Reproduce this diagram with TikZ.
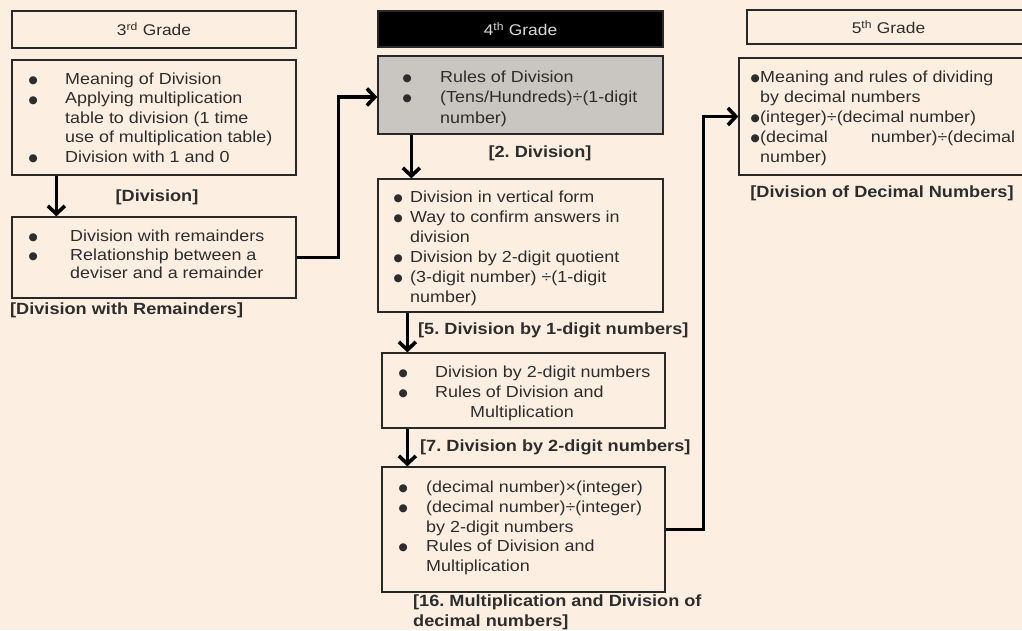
\documentclass[tikz,border=0pt]{standalone}
\usepackage{fontspec}
\setmainfont{Liberation Sans}[FakeStretch=1.12]
\newfontfamily\symfont{DejaVu Sans}
\usetikzlibrary{arrows.meta,calc}
\definecolor{bg}{RGB}{252,239,226}
\definecolor{ink}{RGB}{40,40,40}
\definecolor{txt}{RGB}{45,45,45}
\definecolor{grayfill}{RGB}{201,197,192}
\newcommand\dotb{\smash{\raisebox{0.8pt}{\symfont\fontsize{10.5}{0}\selectfont ●}}}
\newcommand\bul[1]{\makebox[#1][l]{\makebox[0pt][c]{\dotb}}}
\newcommand\fs[1]{\fontsize{16}{#1}\selectfont}
\frenchspacing
\begin{document}
\begin{tikzpicture}[x=1pt,y=-1pt,
  box/.style={draw=ink, line width=1.3pt, inner sep=0pt, rectangle},
  hdr/.style={box, font=\fontsize{15.5}{18}\selectfont, text=txt},
  blk/.style={anchor=north west, inner sep=0pt, text=txt},
  lbl/.style={inner sep=0pt, text=txt, font=\fontsize{16.2}{20}\selectfont\bfseries\frenchspacing},
  arr/.style={draw=black, line width=3.6pt, -{Straight Barb[length=8pt,width=17pt]}}
]
\fill[bg] (0,0) rectangle (1022,630);
\useasboundingbox (0,0) rectangle (1022,630);
\clip (0,0) rectangle (1022,630);

% headers
\node[hdr, minimum width=284pt, minimum height=37pt] (H3) at (154,29.5) {3\textsuperscript{rd} Grade};
\node[hdr, fill=black, text=white!85!black, minimum width=285pt, minimum height=36pt] (H4) at (520.5,29) {4\textsuperscript{th} Grade};
\node[hdr, minimum width=283pt, minimum height=34pt] (H5) at (888.5,27) {5\textsuperscript{th} Grade};

% boxes
\node[box, minimum width=284pt, minimum height=115pt] (A1) at (154,117.5) {};
\node[box, minimum width=284pt, minimum height=81pt] (A2) at (154,257.5) {};
\node[box, fill=grayfill, minimum width=285pt, minimum height=78pt] (B1) at (520.5,95) {};
\node[box, minimum width=285pt, minimum height=133pt] (B2) at (520.5,245.5) {};
\node[box, minimum width=283pt, minimum height=75pt] (B3) at (523.5,390.5) {};
\node[box, minimum width=283pt, minimum height=125pt] (B4) at (523.5,529.5) {};
\node[box, minimum width=291pt, minimum height=117pt] (C) at (884.5,116.5) {};

% texts
\node[blk] (tA1) at (33,70.5) {\fs{19.5}\begin{tabular}{@{}l@{}l@{}}
\bul{32pt}&Meaning of Division\\
\bul{32pt}&Applying multiplication\\
&table to division (1 time\\
&use of multiplication table)\\
\bul{32pt}&Division with 1 and 0\end{tabular}};

\node[blk] (tA2) at (33,228.5) {\fs{18.5}\begin{tabular}{@{}l@{}l@{}}
\bul{37pt}&Division with remainders\\
\bul{37pt}&Relationship between a\\
&deviser and a remainder\end{tabular}};

\node[blk] (tB1) at (407,67.5) {\fs{20.5}\begin{tabular}{@{}l@{}l@{}}
\bul{33pt}&Rules of Division\\
\bul{33pt}&(Tens/Hundreds)÷(1-digit\\
&number)\end{tabular}};

\node[blk] (tB2) at (398,188.5) {\fs{20}\begin{tabular}{@{}l@{}l@{}}
\bul{12pt}&Division in vertical form\\
\bul{12pt}&Way to confirm answers in\\
&division\\
\bul{12pt}&Division by 2-digit quotient\\
\bul{12pt}&(3-digit number) ÷(1-digit\\
&number)\end{tabular}};

\node[blk] (tB3) at (403,363.5) {\fs{20}\begin{tabular}{@{}l@{}l@{}}
\bul{32pt}&Division by 2-digit numbers\\
\bul{32pt}&Rules of Division and\\
&\hspace{35pt}Multiplication\end{tabular}};

\node[blk] (tB4) at (403,478.5) {\fs{19.75}\begin{tabular}{@{}l@{}l@{}}
\bul{23pt}&(decimal number)×(integer)\\
\bul{23pt}&(decimal number)÷(integer)\\
&by 2-digit numbers\\
\bul{23pt}&Rules of Division and\\
&Multiplication\end{tabular}};

\node[blk] (tC) at (755,68.5) {\fs{20}\begin{tabular}{@{}l@{}l@{}}
\bul{5pt}&Meaning and rules of dividing\\
&by decimal numbers\\
\bul{5pt}&(integer)÷(decimal number)\\
\bul{5pt}&\makebox[255pt][s]{(decimal\hfill number)÷(decimal}\\
&number)\end{tabular}};

% labels
\node[lbl] (LA1) at (157,197) {[Division]};
\node[lbl, anchor=west] (LA2) at (10,310) {[Division with Remainders]};
\node[lbl] (LB1) at (540,153) {[2. Division]};
\node[lbl, anchor=west] (LB2) at (418,330) {[5. Division by 1-digit numbers]};
\node[lbl, anchor=west] (LB3) at (420,447) {[7. Division by 2-digit numbers]};
\node[lbl, anchor=west, align=left] (LB4) at (413,612) {[16. Multiplication and Division of\\decimal numbers]};
\node[lbl] (LC) at (882,193) {[Division of Decimal Numbers]};

% connectors
\coordinate (k1) at ($(A1.south west)+(45,0)$);
\draw[arr] (k1) -- (A2.north -| k1);
\draw[arr] (A2.east) -- ++(42,0) |- ([yshift=-2pt]B1.west);
\coordinate (k2) at ($(B1.south west)+(34,0)$);
\draw[arr] (k2) -- (B2.north -| k2);
\coordinate (k3) at ($(B3.north west)+(26,0)$);
\draw[arr] (B2.south -| k3) -- (k3);
\coordinate (k4) at ($(B4.north west)+(26,0)$);
\draw[arr] (B3.south -| k4) -- (k4);
\draw[arr] (B4.east) -- ++(38,0) |- (C.west);
\end{tikzpicture}
\end{document}
